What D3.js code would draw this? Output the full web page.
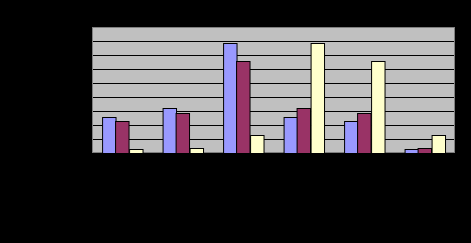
<!DOCTYPE html>
<html>
<head>
<meta charset="utf-8">
<script src="https://cdn.jsdelivr.net/npm/d3@7"></script>
<style>
  html, body { margin: 0; padding: 0; background: #000; }
  svg { display: block; }
</style>
</head>
<body>
<div id="chart"></div>
<script>
// values (axis labels are black on black, so units are a guess)
var categories = ["1", "2", "3", "4", "5", "6"];
var seriesNames = ["Series1", "Series2", "Series3"];
var series1 = [2.57, 3.19, 7.83, 2.57, 2.26, 0.26];
var series2 = [2.26, 2.83, 6.55, 3.19, 2.83, 0.33];
var series3 = [0.26, 0.33, 1.26, 7.83, 6.55, 1.26];
var yTicks = [0, 1, 2, 3, 4, 5, 6, 7, 8, 9];

var colors = ["#9999FF", "#993366", "#FFFFCC"];

var width = 471, height = 243;
var plot = {left: 92, top: 27, right: 455, bottom: 153};

var rows = categories.map(function(c, i) {
  return {cat: c, vals: [series1[i], series2[i], series3[i]]};
});

var svg = d3.select("#chart").append("svg")
  .attr("width", width)
  .attr("height", height);

svg.append("rect")
  .attr("width", width)
  .attr("height", height)
  .attr("fill", "#000");

var x0 = d3.scaleBand()
  .domain(categories)
  .range([plot.left, plot.right])
  .paddingInner(1 / 3)
  .paddingOuter(1 / 6);

var x1 = d3.scaleBand()
  .domain(d3.range(seriesNames.length))
  .range([0, x0.bandwidth()]);

var y = d3.scaleLinear()
  .domain([0, 9])
  .range([plot.bottom, plot.top]);

// plot area
svg.append("rect")
  .attr("x", plot.left)
  .attr("y", plot.top)
  .attr("width", plot.right - plot.left)
  .attr("height", plot.bottom - plot.top)
  .attr("fill", "#C0C0C0");

// gridlines
svg.append("g")
  .attr("class", "grid")
  .selectAll("line")
  .data(yTicks.slice(1, -1))
  .enter().append("line")
    .attr("x1", plot.left)
    .attr("x2", plot.right)
    .attr("y1", function(d) { return Math.round(y(d)) + 0.5; })
    .attr("y2", function(d) { return Math.round(y(d)) + 0.5; })
    .attr("stroke", "#000")
    .attr("stroke-width", 1);

// border
svg.append("rect")
  .attr("x", plot.left + 0.5)
  .attr("y", plot.top + 0.5)
  .attr("width", plot.right - plot.left - 1)
  .attr("height", plot.bottom - plot.top - 1)
  .attr("fill", "none")
  .attr("stroke", "#808080");

// bars
var groups = svg.append("g")
  .selectAll("g")
  .data(rows)
  .enter().append("g")
    .attr("transform", function(d) { return "translate(" + x0(d.cat) + ",0)"; });

groups.selectAll("rect")
  .data(function(d) { return d.vals; })
  .enter().append("rect")
    .attr("x", function(d, i) { return Math.round(x1(i)) + 0.5; })
    .attr("y", function(d) { return Math.round(y(d)) + 0.5; })
    .attr("width", x1.bandwidth())
    .attr("height", function(d) { return plot.bottom - Math.round(y(d)); })
    .attr("fill", function(d, i) { return colors[i]; })
    .attr("stroke", "#000")
    .attr("stroke-width", 1);

// axes (black, like the picture)
svg.append("line")
  .attr("x1", plot.left).attr("x2", plot.right)
  .attr("y1", plot.bottom + 0.5).attr("y2", plot.bottom + 0.5)
  .attr("stroke", "#000");
svg.append("line")
  .attr("x1", plot.left - 0.5).attr("x2", plot.left - 0.5)
  .attr("y1", plot.top).attr("y2", plot.bottom)
  .attr("stroke", "#000");
</script>
</body>
</html>
